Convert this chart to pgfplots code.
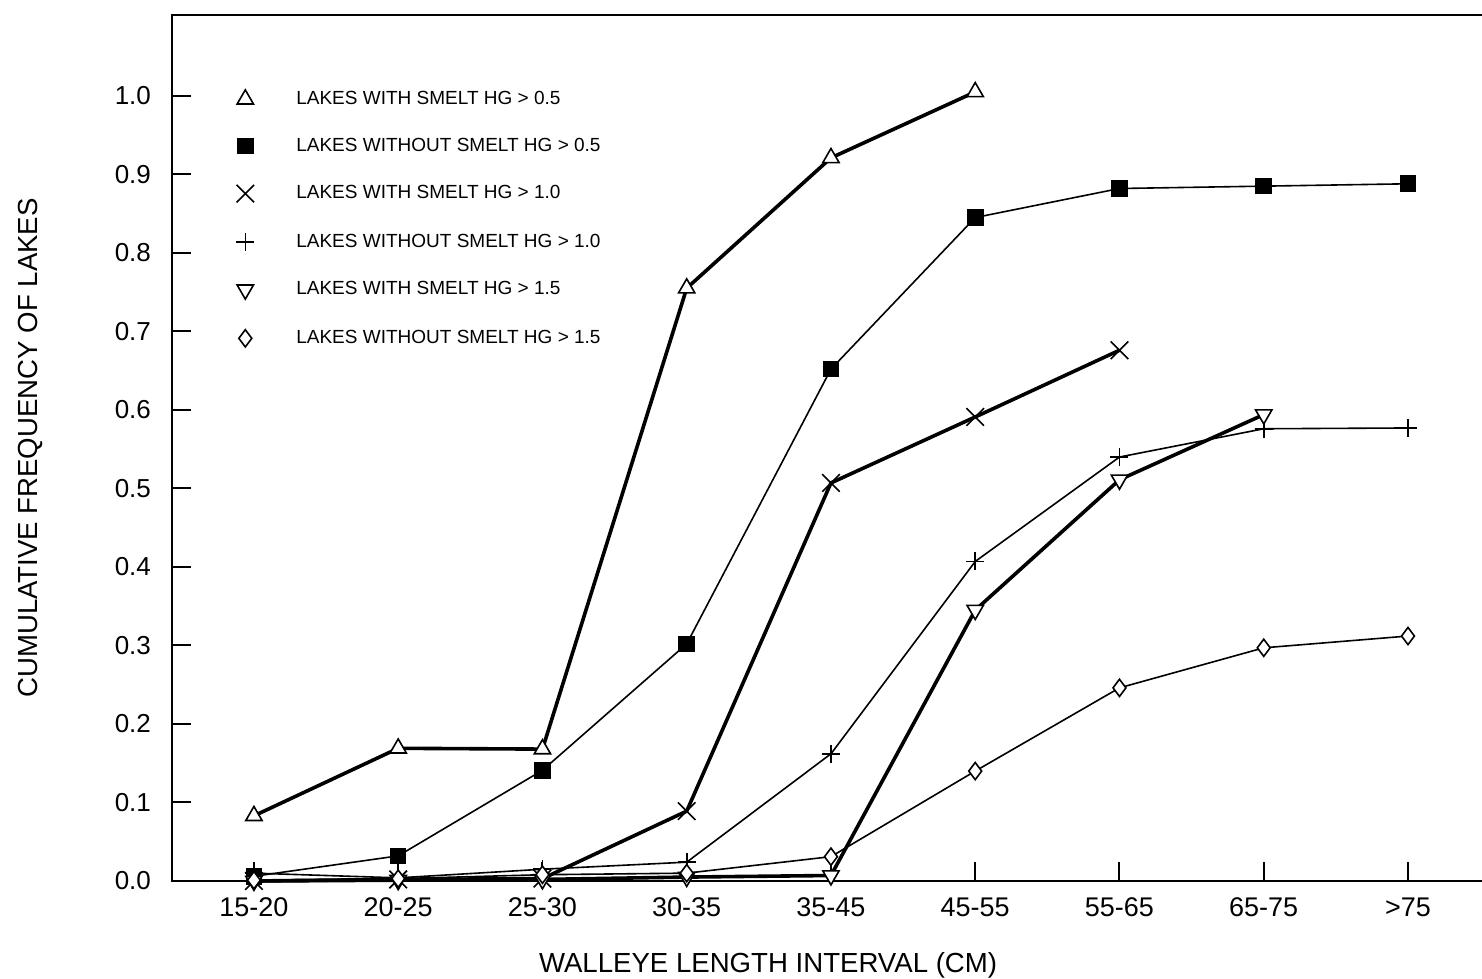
\documentclass[border=0pt]{standalone}
\usepackage{fontspec}
\setmainfont{Liberation Sans}
\usepackage{pgfplots}
\pgfplotsset{compat=1.18}
\begin{document}
\begin{tikzpicture}
\begin{axis}[
  name=ax,
  scale only axis,
  width=655pt, height=433pt,
  xmin=-0.568, xmax=8.513,
  ymin=0, ymax=1.103,
  clip=false,
  axis line style={draw=none},
  tick pos=left,
  tick align=inside,
  major tick length=9.5pt,
  every tick/.style={black, line width=1pt},
  xtick={0,1,2,3,4,5,6,7,8},
  xticklabels={15-20,20-25,25-30,30-35,35-45,45-55,55-65,65-75,{>75}},
  ytick={0,0.1,0.2,0.3,0.4,0.5,0.6,0.7,0.8,0.9,1.0},
  /pgf/number format/assume math mode=true,
  yticklabel style={/pgf/number format/fixed, /pgf/number format/fixed zerofill, /pgf/number format/precision=1,
    font=\fontsize{13}{14}\selectfont, xshift=-7pt},
  xticklabel style={font=\fontsize{13.5}{15}\selectfont, yshift=-5pt},
  xlabel={WALLEYE LENGTH INTERVAL (CM)},
  ylabel={CUMULATIVE FREQUENCY OF LAKES},
  xlabel style={at={(axis description cs:0.455,-0.097)}, anchor=center, font=\fontsize{13.8}{16}\selectfont, inner sep=0pt},
  ylabel style={at={(axis description cs:-0.108,0.5)}, anchor=center, font=\fontsize{13.8}{16}\selectfont, inner sep=0pt},
  legend style={at={(axis description cs:0.0465,0.914)}, anchor=north west, draw=none, fill=none,
    font=\fontsize{9.5}{11}\selectfont, row sep=15.3pt, inner sep=0pt, column sep=0pt,
    nodes={inner sep=0pt}},
  legend cell align=left,
  legend image code/.code={\path[draw=none] (-6pt,0pt) -- (25.5pt,0pt); \draw[#1, only marks] plot coordinates {(0pt,0pt)};},
]
% S1: with smelt > 0.5
\addplot[black, line width=1.8pt, mark=triangle*, mark size=4.7pt, mark options={fill=white, line width=0.8pt}]
  coordinates {(0,0.083)(1,0.169)(2,0.168)(3,0.755)(4,0.921)(5,1.005)};
\addlegendentry{LAKES WITH SMELT HG > 0.5}
% S2: without smelt > 0.5
\addplot[black, line width=0.8pt, mark=square*, mark size=3.9pt, mark options={fill=black, line width=0.5pt}]
  coordinates {(0,0.006)(1,0.032)(2,0.141)(3,0.302)(4,0.652)(5,0.845)(6,0.882)(7,0.885)(8,0.888)};
\addlegendentry{LAKES WITHOUT SMELT HG > 0.5}
% S3: with smelt > 1.0
\addplot[black, line width=1.8pt, mark=x, mark size=6.2pt, mark options={line width=0.8pt}]
  coordinates {(0,0.0)(1,0.002)(2,0.003)(3,0.089)(4,0.507)(5,0.591)(6,0.676)};
\addlegendentry{LAKES WITH SMELT HG > 1.0}
% S4: without smelt > 1.0
\addplot[black, line width=0.8pt, mark=+, mark size=4.5pt, mark options={line width=0.8pt}]
  coordinates {(0,0.01)(1,0.004)(2,0.015)(3,0.024)(4,0.162)(5,0.407)(6,0.540)(7,0.576)(8,0.577)};
\addlegendentry{LAKES WITHOUT SMELT HG > 1.0}
% S5: with smelt > 1.5
\addplot[black, line width=1.8pt, mark=triangle*, mark size=4.7pt, mark options={fill=white, line width=0.8pt, rotate=180}]
  coordinates {(0,0.0)(1,0.001)(2,0.002)(3,0.005)(4,0.007)(5,0.345)(6,0.511)(7,0.594)};
\addlegendentry{LAKES WITH SMELT HG > 1.5}
% S6: without smelt > 1.5
\addplot[black, line width=0.8pt, mark=diamond*, mark size=4.3pt, mark options={fill=white, line width=0.8pt}]
  coordinates {(0,0.001)(1,0.003)(2,0.008)(3,0.010)(4,0.031)(5,0.140)(6,0.246)(7,0.297)(8,0.312)};
\addlegendentry{LAKES WITHOUT SMELT HG > 1.5}
\draw[black, line width=1pt] (rel axis cs:1,1) -- (rel axis cs:0,1) -- (rel axis cs:0,0) -- (rel axis cs:1,0);
\end{axis}
\pgfresetboundingbox
\path[use as bounding box] ([shift={(-86pt,-49pt)}]ax.south west) rectangle ([shift={(0pt,7.5pt)}]ax.north east);
\end{tikzpicture}
\end{document}
